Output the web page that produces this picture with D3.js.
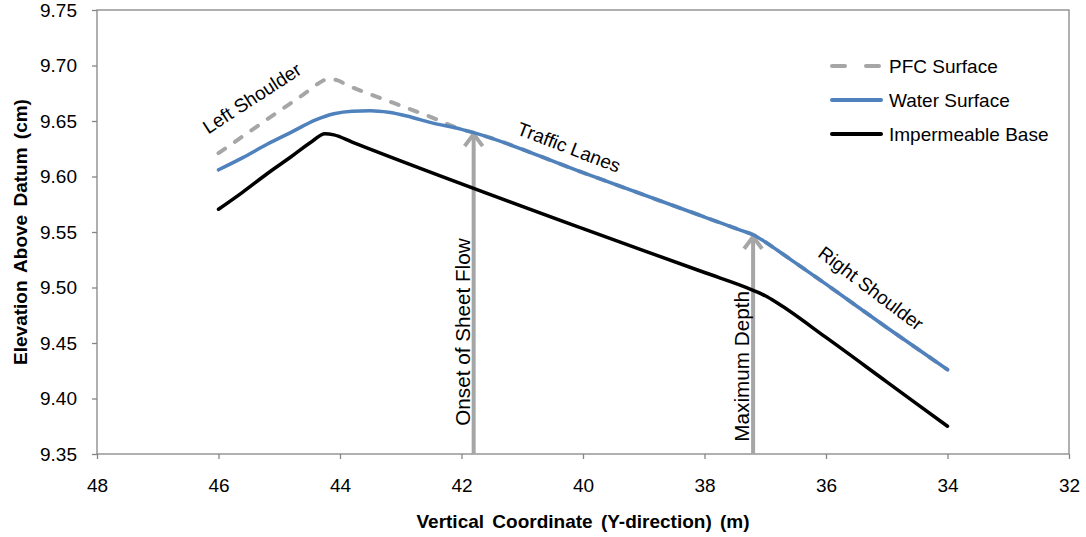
<!DOCTYPE html>
<html>
<head>
<meta charset="utf-8">
<script src="https://cdn.jsdelivr.net/npm/d3@7"></script>
<style>
    body { margin: 0; background: #fff; }
    svg { display: block; font-family: "Liberation Sans", Arial, sans-serif; }
    .axis text { font-size: 19px; fill: #000; }
    .axis line { stroke: #868686; stroke-width: 1.3; }
    .note { font-size: 19px; fill: #000; }
    .note.big { font-size: 20.7px; }
    .title { font-size: 19px; font-weight: bold; fill: #000; }
</style>
</head>
<body>
<svg id="chart" width="1086" height="537"></svg>
<script>
// values
const xTicks = [48, 46, 44, 42, 40, 38, 36, 34, 32];
const yTicks = [9.35, 9.40, 9.45, 9.50, 9.55, 9.60, 9.65, 9.70, 9.75];

const pfcX = [46, 45.5, 45.0, 44.6, 44.35, 44.2, 44.05, 43.9, 43.4, 42.96, 42.5, 42.2, 42.0, 41.8, 40.0, 38.0, 37.4, 37.2, 37.0, 36.8, 36.0, 35.0, 34.0];
const pfcY = [9.621, 9.640, 9.659, 9.674, 9.684, 9.6878, 9.6868, 9.6828, 9.672, 9.663, 9.6535, 9.6465, 9.6425, 9.6395, 9.6035, 9.5635, 9.5515, 9.5475, 9.541, 9.5335, 9.503, 9.464, 9.426];

const waterX = [46, 45.6, 45.2, 44.8, 44.4, 44.1, 43.8, 43.5, 43.2, 42.9, 42.5, 42.0, 41.8, 40.0, 38.0, 37.4, 37.2, 37.0, 36.8, 36.0, 35.0, 34.0];
const waterY = [9.606, 9.617, 9.629, 9.640, 9.651, 9.6565, 9.6588, 9.6592, 9.6578, 9.6545, 9.6485, 9.6425, 9.6395, 9.6035, 9.5635, 9.5515, 9.5475, 9.541, 9.5335, 9.503, 9.464, 9.426];

const baseX = [46, 45.6, 45.2, 44.8, 44.45, 44.25, 44.1, 43.8, 40.0, 38.0, 37.2, 37.0, 36.8, 36.0, 35.0, 34.0];
const baseY = [9.5705, 9.586, 9.6025, 9.618, 9.632, 9.6385, 9.6375, 9.631, 9.553, 9.5135, 9.4975, 9.4925, 9.486, 9.455, 9.415, 9.375];

const seriesNames = ["PFC Surface", "Water Surface", "Impermeable Base"];

const arrowX = [41.8, 37.2];
const arrowTop = [9.640, 9.5475];
const arrowLabels = ["Onset of Sheet Flow", "Maximum Depth"];

const zoneLabels = ["Left Shoulder", "Traffic Lanes", "Right Shoulder"];
const zoneX = [45.45, 40.23, 35.26];
const zoneY = [9.6706, 9.6264, 9.4993];
const zoneAngle = [-33, 21, 37];

const svg = d3.select("#chart");
const W = 1086, H = 537;
const margin = {left: 97, right: 17, top: 10, bottom: 83};

svg.append("rect").attr("width", W).attr("height", H).attr("fill", "#fff");

const x = d3.scaleLinear().domain([48, 32]).range([margin.left, W - margin.right]);
const y = d3.scaleLinear().domain([9.35, 9.75]).range([H - margin.bottom, margin.top]);

const zip = (xs, ys) => xs.map((v, i) => ({x: v, y: ys[i]}));
const line = d3.line().x(d => x(d.x)).y(d => y(d.y)).curve(d3.curveMonotoneX);

// axes
svg.append("g")
    .attr("class", "axis")
    .attr("transform", `translate(${margin.left},0)`)
    .call(d3.axisLeft(y).tickValues(yTicks).tickFormat(d3.format(".2f")).tickSize(5).tickSizeOuter(0).tickPadding(15))
    .call(g => g.select(".domain").remove())
    .selectAll("text").attr("font-family", null).attr("font-size", null);

svg.append("g")
    .attr("class", "axis")
    .attr("transform", `translate(0,${H - margin.bottom})`)
    .call(d3.axisBottom(x).tickValues(xTicks).tickFormat(d3.format("d")).tickSize(5).tickSizeOuter(0).tickPadding(20))
    .call(g => g.select(".domain").remove())
    .selectAll("text").attr("font-family", null).attr("font-size", null);

// plot border
svg.append("rect")
    .attr("x", x(48)).attr("y", y(9.75))
    .attr("width", x(32) - x(48)).attr("height", y(9.35) - y(9.75))
    .attr("fill", "none").attr("stroke", "#868686").attr("stroke-width", 1.3);

// arrows
const arrows = svg.append("g");
arrowX.forEach((ax, i) => {
    const px = x(ax), top = y(arrowTop[i]);
    arrows.append("line")
        .attr("x1", px).attr("x2", px)
        .attr("y1", y(9.35)).attr("y2", top + 2)
        .attr("stroke", "#a6a6a6").attr("stroke-width", 4);
    arrows.append("path")
        .attr("d", `M${px - 9},${top + 14}L${px},${top + 2}L${px + 9},${top + 14}`)
        .attr("fill", "none").attr("stroke", "#a6a6a6").attr("stroke-width", 4)
        .attr("stroke-linejoin", "miter");
    arrows.append("text")
        .attr("class", "note big")
        .attr("transform", `translate(${px - 4},${(y(9.35) + top) / 2 + (i === 0 ? 39 : 22)}) rotate(-90)`)
        .attr("text-anchor", "middle")
        .text(arrowLabels[i]);
});

// series
svg.append("path")
    .datum(zip(pfcX, pfcY))
    .attr("d", line)
    .attr("fill", "none").attr("stroke", "#a6a6a6").attr("stroke-width", 4)
    .attr("stroke-dasharray", "8,12").attr("stroke-linecap", "round");

svg.append("path")
    .datum(zip(waterX, waterY))
    .attr("d", line)
    .attr("fill", "none").attr("stroke", "#4f81bd").attr("stroke-width", 3.5)
    .attr("stroke-linecap", "round");

svg.append("path")
    .datum(zip(baseX, baseY))
    .attr("d", line)
    .attr("fill", "none").attr("stroke", "#000").attr("stroke-width", 3.5)
    .attr("stroke-linecap", "round").attr("stroke-linejoin", "round");

// zone labels
zoneLabels.forEach((t, i) => {
    svg.append("text")
        .attr("class", "note")
        .attr("transform", `translate(${x(zoneX[i])},${y(zoneY[i])}) rotate(${zoneAngle[i]})`)
        .attr("text-anchor", "middle")
        .attr("dy", "0.35em")
        .text(t);
});

// legend
const legend = svg.append("g").attr("transform", "translate(830,66)");
const legendStyle = [
    {stroke: "#a6a6a6", dash: "13,21"},
    {stroke: "#4f81bd", dash: null},
    {stroke: "#000", dash: null}
];
seriesNames.forEach((name, i) => {
    const row = legend.append("g").attr("transform", `translate(0,${i * 34})`);
    row.append("line")
        .attr("x1", 2).attr("x2", 51)
        .attr("stroke", legendStyle[i].stroke).attr("stroke-width", 4)
        .attr("stroke-linecap", "round")
        .attr("stroke-dasharray", legendStyle[i].dash);
    row.append("text")
        .attr("class", "note")
        .attr("x", 59).attr("dy", "0.35em")
        .text(name);
});

// axis titles
svg.append("text")
    .attr("class", "title")
    .attr("x", (x(48) + x(32)) / 2).attr("y", 528)
    .attr("text-anchor", "middle")
    .attr("word-spacing", "3px")
    .text("Vertical Coordinate (Y-direction) (m)");

svg.append("text")
    .attr("class", "title")
    .attr("transform", `translate(27,${(y(9.35) + y(9.75)) / 2}) rotate(-90)`)
    .attr("text-anchor", "middle")
    .attr("word-spacing", "3px")
    .text("Elevation Above Datum (cm)");
</script>
</body>
</html>
